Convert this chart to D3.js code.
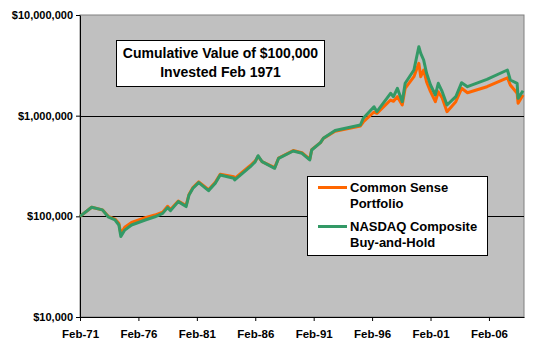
<!DOCTYPE html>
<html>
<head>
<meta charset="utf-8">
<script src="https://cdn.jsdelivr.net/npm/d3@7"></script>
<style>
  body { margin: 0; background: #fff; }
  text { font-family: "Liberation Sans", Arial, sans-serif; font-weight: bold; fill: #000; }
</style>
</head>
<body>
<div id="chart"></div>
<script>
// data
let months = ["1971-02","1972-02","1973-01","1973-07","1974-02","1974-06","1974-08","1974-12",
  "1975-07","1976-09","1977-07","1978-03","1978-08","1978-11","1979-07","1980-03","1980-06",
  "1980-10","1981-04","1982-02","1982-09","1983-02","1984-04","1984-05","1985-09","1986-02",
  "1986-05","1986-09","1987-10","1988-02","1989-05","1990-02","1990-10","1990-12","1991-09",
  "1991-12","1992-12","1995-02","1995-05","1996-04","1996-07","1997-09","1997-12","1998-04",
  "1998-09","1998-12","1999-09","2000-02","2000-04","2000-07","2000-10","2001-02","2001-07",
  "2001-10","2002-02","2002-07","2003-04","2003-10","2004-04","2005-12","2007-09","2007-12",
  "2008-07","2008-08","2009-01"];

let nasdaq = [100000,123000,116000,99000,92000,82000,63000,73000,
  82000,92000,99000,107000,122000,114000,140000,125000,163000,
  190000,216000,180000,213000,257000,239000,230000,311000,349000,
  400000,349000,300000,377000,446000,423000,363000,456000,539000,
  596000,711000,808000,942000,1227000,1095000,1668000,1543000,1870000,
  1376000,2097000,2842000,4842000,4164000,3572000,2635000,2017000,1604000,
  2097000,1730000,1276000,1543000,2126000,1940000,2297000,2842000,2261000,
  2097000,1487000,1770000];

let commonSense = [100000,123000,116000,100000,94000,85000,67000,78000,
  87000,97000,103000,110000,126000,117000,142000,128000,165000,
  193000,220000,184000,218000,262000,248000,238000,320000,355000,
  395000,350000,305000,380000,450000,428000,370000,460000,540000,
  595000,700000,790000,865000,1087000,1055000,1430000,1390000,1543000,
  1276000,1870000,2438000,3310000,2438000,2842000,2160000,1730000,1376000,
  1730000,1498000,1095000,1376000,1870000,1690000,1940000,2380000,2017000,
  1668000,1327000,1604000];

let yTicks = [10000, 100000, 1000000, 10000000];
let xTickYears = [1971, 1976, 1981, 1986, 1991, 1996, 2001, 2006];
let titleLines = ["Cumulative Value of $100,000", "Invested Feb 1971"];
let legendItems = [
  {lines: ["Common Sense", "Portfolio"], color: "#ff6600"},
  {lines: ["NASDAQ Composite", "Buy-and-Hold"], color: "#339966"}
];

let margin = {top: 15, right: 26, bottom: 33, left: 80},
    width = 550 - margin.left - margin.right,
    height = 350 - margin.top - margin.bottom;

let parse = d3.timeParse("%Y-%m");

let x = d3.scaleTime()
    .domain([new Date(1971, 1, 1), new Date(2009, 1, 1)])
    .range([0, width]);
let y = d3.scaleLog()
    .domain([10000, 10000000])
    .range([height, 0]);

let svg = d3.select("#chart").append("svg")
    .attr("width", 550)
    .attr("height", 350)
    .append("g")
    .attr("transform", "translate(" + margin.left + "," + margin.top + ")");

// plot area
svg.append("rect")
    .attr("width", width)
    .attr("height", height)
    .attr("fill", "#c0c0c0")
    .attr("stroke", "#808080");

// gridlines
svg.selectAll(".grid")
    .data(yTicks.slice(1, 3))
    .enter().append("line")
    .attr("x1", 0).attr("x2", width)
    .attr("y1", d => Math.round(y(d)) + 0.5)
    .attr("y2", d => Math.round(y(d)) + 0.5)
    .attr("stroke", "#000");

// axes
let fmt = d3.format("$,");
let yAxis = svg.append("g")
    .call(d3.axisLeft(y).tickValues(yTicks).tickFormat(fmt).tickSize(4).tickSizeOuter(0));
let xAxis = svg.append("g")
    .attr("transform", "translate(0," + height + ")")
    .call(d3.axisBottom(x)
        .tickValues(xTickYears.map(yr => new Date(yr, 1, 1)))
        .tickFormat(d3.timeFormat("%b-%y"))
        .tickSize(4).tickSizeOuter(0));

[yAxis, xAxis].forEach(a => {
  a.select(".domain").attr("stroke", "#000");
  a.selectAll(".tick line").attr("stroke", "#000");
  a.selectAll("text").attr("font-size", 11).attr("font-family", null);
});
yAxis.selectAll("text").attr("x", -7);
xAxis.selectAll("text").attr("y", 13).attr("font-size", 11.5);

// series lines
let line = d3.line()
    .x((d, i) => x(parse(months[i])))
    .y(d => y(d));

[{vals: commonSense, color: "#ff6600"}, {vals: nasdaq, color: "#339966"}].forEach(s => {
  svg.append("path")
      .datum(s.vals)
      .attr("fill", "none")
      .attr("stroke", s.color)
      .attr("stroke-width", 3)
      .attr("stroke-linejoin", "round")
      .attr("d", line);
});

// title box
let title = svg.append("g").attr("transform", "translate(36,25)");
title.append("rect")
    .attr("x", 0.5).attr("y", 0.5)
    .attr("width", 208).attr("height", 46)
    .attr("fill", "#fff").attr("stroke", "#000");
title.selectAll("text")
    .data(titleLines)
    .enter().append("text")
    .attr("x", 104.5)
    .attr("y", (d, i) => 18 + i * 19)
    .attr("text-anchor", "middle")
    .attr("font-size", 14)
    .text(d => d);

// legend
let legend = svg.append("g").attr("transform", "translate(227,161)");
legend.append("rect")
    .attr("x", 0.5).attr("y", 0.5)
    .attr("width", 180).attr("height", 79)
    .attr("fill", "#fff").attr("stroke", "#000");
let item = legend.selectAll(".item")
    .data(legendItems)
    .enter().append("g")
    .attr("transform", (d, i) => "translate(0," + (i * 39) + ")");
item.append("line")
    .attr("x1", 11).attr("x2", 40)
    .attr("y1", 11.5).attr("y2", 11.5)
    .attr("stroke", d => d.color)
    .attr("stroke-width", 3);
item.selectAll("text")
    .data(d => d.lines)
    .enter().append("text")
    .attr("x", 43)
    .attr("y", (d, i) => 16 + i * 16)
    .attr("font-size", 13)
    .text(d => d);
</script>
</body>
</html>
